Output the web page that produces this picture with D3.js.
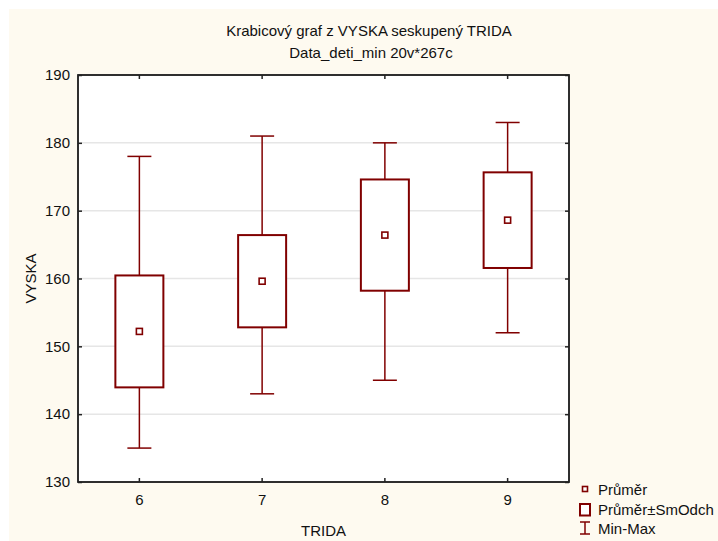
<!DOCTYPE html>
<html lang="cs">
<head>
  <meta charset="UTF-8">
  <title>Krabicový graf</title>
  <style>
    body {
      margin: 0;
      font-family: "Liberation Sans", Arial, sans-serif;
    }
    svg text {
      fill: #111;
      font-size: 15px;
    }
    .grid line {
      stroke: #e6e6e6;
      stroke-width: 1.5;
    }
    .frame {
      fill: #fff;
      stroke: #222;
      stroke-width: 1.5;
    }
    .box {
      fill: #fff;
      stroke: #800000;
      stroke-width: 2;
    }
    .whisker {
      stroke: #800000;
      stroke-width: 1.5;
    }
    .mean {
      fill: #fff;
      stroke: #800000;
      stroke-width: 1.6;
    }
  </style>
  <script src="https://d3js.org/d3.v7.min.js"></script>
</head>
<body>
  <div id="chart"></div>
  <script>
/* global d3 */

// data
var tridy = ["6", "7", "8", "9"];
var prumer = [152.2, 159.6, 166.4, 168.6];
var smOdch = [8.25, 6.8, 8.2, 7.05];
var minima = [135, 143, 145, 152];
var maxima = [178, 181, 180, 183];
var yTicks = [130, 140, 150, 160, 170, 180, 190];

var width = 718,
  height = 541,
  margin = {top: 75, right: 149, bottom: 59, left: 78},
  plotW = width - margin.left - margin.right,
  plotH = height - margin.top - margin.bottom;

var svg = d3.select("#chart")
  .append("svg")
  .attr("width", width)
  .attr("height", height);

// cream page background
svg.append("rect")
  .attr("x", 9)
  .attr("y", 9)
  .attr("width", width - 9)
  .attr("height", height - 9)
  .attr("fill", "#fefaf0");

svg.append("text")
  .attr("x", 369)
  .attr("y", 36)
  .attr("text-anchor", "middle")
  .text("Krabicový graf  z VYSKA seskupený TRIDA");

svg.append("text")
  .attr("x", 371)
  .attr("y", 58)
  .attr("text-anchor", "middle")
  .text("Data_deti_min 20v*267c");

var g = svg.append("g")
  .attr("transform", "translate(" + margin.left + "," + margin.top + ")");

var x = d3.scaleBand().domain(tridy).range([0, plotW]);
var y = d3.scaleLinear().domain([130, 190]).range([plotH, 0]);

g.append("rect")
  .attr("class", "frame")
  .attr("width", plotW)
  .attr("height", plotH);

g.append("g")
  .attr("class", "grid")
  .selectAll("line")
  .data(yTicks.slice(1, -1))
  .enter().append("line")
  .attr("x1", 1)
  .attr("x2", plotW - 1)
  .attr("y1", function (d) { return y(d); })
  .attr("y2", function (d) { return y(d); });

// axes: ticks point inward on all four sides
function styleAxis(sel) {
  sel.select(".domain").remove();
  sel.selectAll(".tick line").attr("stroke", "#222").attr("stroke-width", 1.5);
  sel.selectAll(".tick text")
    .attr("font-family", "Liberation Sans, Arial, sans-serif")
    .attr("font-size", 15)
    .attr("fill", "#111");
}

g.append("g")
  .call(d3.axisLeft(y).tickValues(yTicks).tickSizeInner(-4).tickPadding(8))
  .call(styleAxis);

g.append("g")
  .attr("transform", "translate(" + plotW + ",0)")
  .call(d3.axisRight(y).tickValues(yTicks).tickSizeInner(-4).tickFormat(""))
  .call(styleAxis);

g.append("g")
  .attr("transform", "translate(0," + plotH + ")")
  .call(d3.axisBottom(x).tickSizeInner(-4).tickPadding(12))
  .call(styleAxis);

g.append("g")
  .call(d3.axisTop(x).tickSizeInner(-4).tickFormat(""))
  .call(styleAxis);

// redraw frame border on top of grid
g.append("rect")
  .attr("width", plotW)
  .attr("height", plotH)
  .attr("fill", "none")
  .attr("stroke", "#222")
  .attr("stroke-width", 1.5);

var boxW = 48,
  capW = 24,
  meanS = 6;

var data = tridy.map(function (t, i) {
  return {trida: t, mean: prumer[i], sd: smOdch[i], min: minima[i], max: maxima[i]};
});

var groups = g.selectAll(".grp")
  .data(data)
  .enter().append("g")
  .attr("class", "grp")
  .attr("transform", function (d) {
    return "translate(" + (x(d.trida) + x.bandwidth() / 2) + ",0)";
  });

// whiskers
groups.append("line")
  .attr("class", "whisker")
  .attr("x1", 0).attr("x2", 0)
  .attr("y1", function (d) { return y(d.max); })
  .attr("y2", function (d) { return y(d.mean + d.sd); });
groups.append("line")
  .attr("class", "whisker")
  .attr("x1", 0).attr("x2", 0)
  .attr("y1", function (d) { return y(d.mean - d.sd); })
  .attr("y2", function (d) { return y(d.min); });
groups.append("line")
  .attr("class", "whisker")
  .attr("x1", -capW / 2).attr("x2", capW / 2)
  .attr("y1", function (d) { return y(d.max); })
  .attr("y2", function (d) { return y(d.max); });
groups.append("line")
  .attr("class", "whisker")
  .attr("x1", -capW / 2).attr("x2", capW / 2)
  .attr("y1", function (d) { return y(d.min); })
  .attr("y2", function (d) { return y(d.min); });

// mean +- sd boxes
groups.append("rect")
  .attr("class", "box")
  .attr("x", -boxW / 2)
  .attr("width", boxW)
  .attr("y", function (d) { return y(d.mean + d.sd); })
  .attr("height", function (d) { return y(d.mean - d.sd) - y(d.mean + d.sd); });

// mean markers
groups.append("rect")
  .attr("class", "mean")
  .attr("x", -meanS / 2)
  .attr("width", meanS)
  .attr("y", function (d) { return y(d.mean) - meanS / 2; })
  .attr("height", meanS);

// axis titles
svg.append("text")
  .attr("transform", "translate(36," + (margin.top + plotH / 2) + ") rotate(-90)")
  .attr("text-anchor", "middle")
  .text("VYSKA");

svg.append("text")
  .attr("x", margin.left + plotW / 2)
  .attr("y", 536)
  .attr("text-anchor", "middle")
  .text("TRIDA");

// legend
var leg = svg.append("g").attr("transform", "translate(585,0)");

leg.append("rect")
  .attr("class", "mean")
  .attr("x", -2.5).attr("y", 486.5)
  .attr("width", 5).attr("height", 5);
leg.append("text").attr("x", 13).attr("y", 495).text("Průměr");

leg.append("rect")
  .attr("class", "box")
  .attr("x", -5).attr("y", 504)
  .attr("width", 10).attr("height", 11.5);
leg.append("text").attr("x", 13).attr("y", 515).text("Průměr±SmOdch");

leg.append("line").attr("class", "whisker")
  .attr("x1", 0).attr("x2", 0).attr("y1", 522).attr("y2", 534);
leg.append("line").attr("class", "whisker")
  .attr("x1", -5).attr("x2", 5).attr("y1", 522).attr("y2", 522);
leg.append("line").attr("class", "whisker")
  .attr("x1", -5).attr("x2", 5).attr("y1", 534).attr("y2", 534);
leg.append("text").attr("x", 13).attr("y", 534).text("Min-Max");

  </script>
</body>
</html>
